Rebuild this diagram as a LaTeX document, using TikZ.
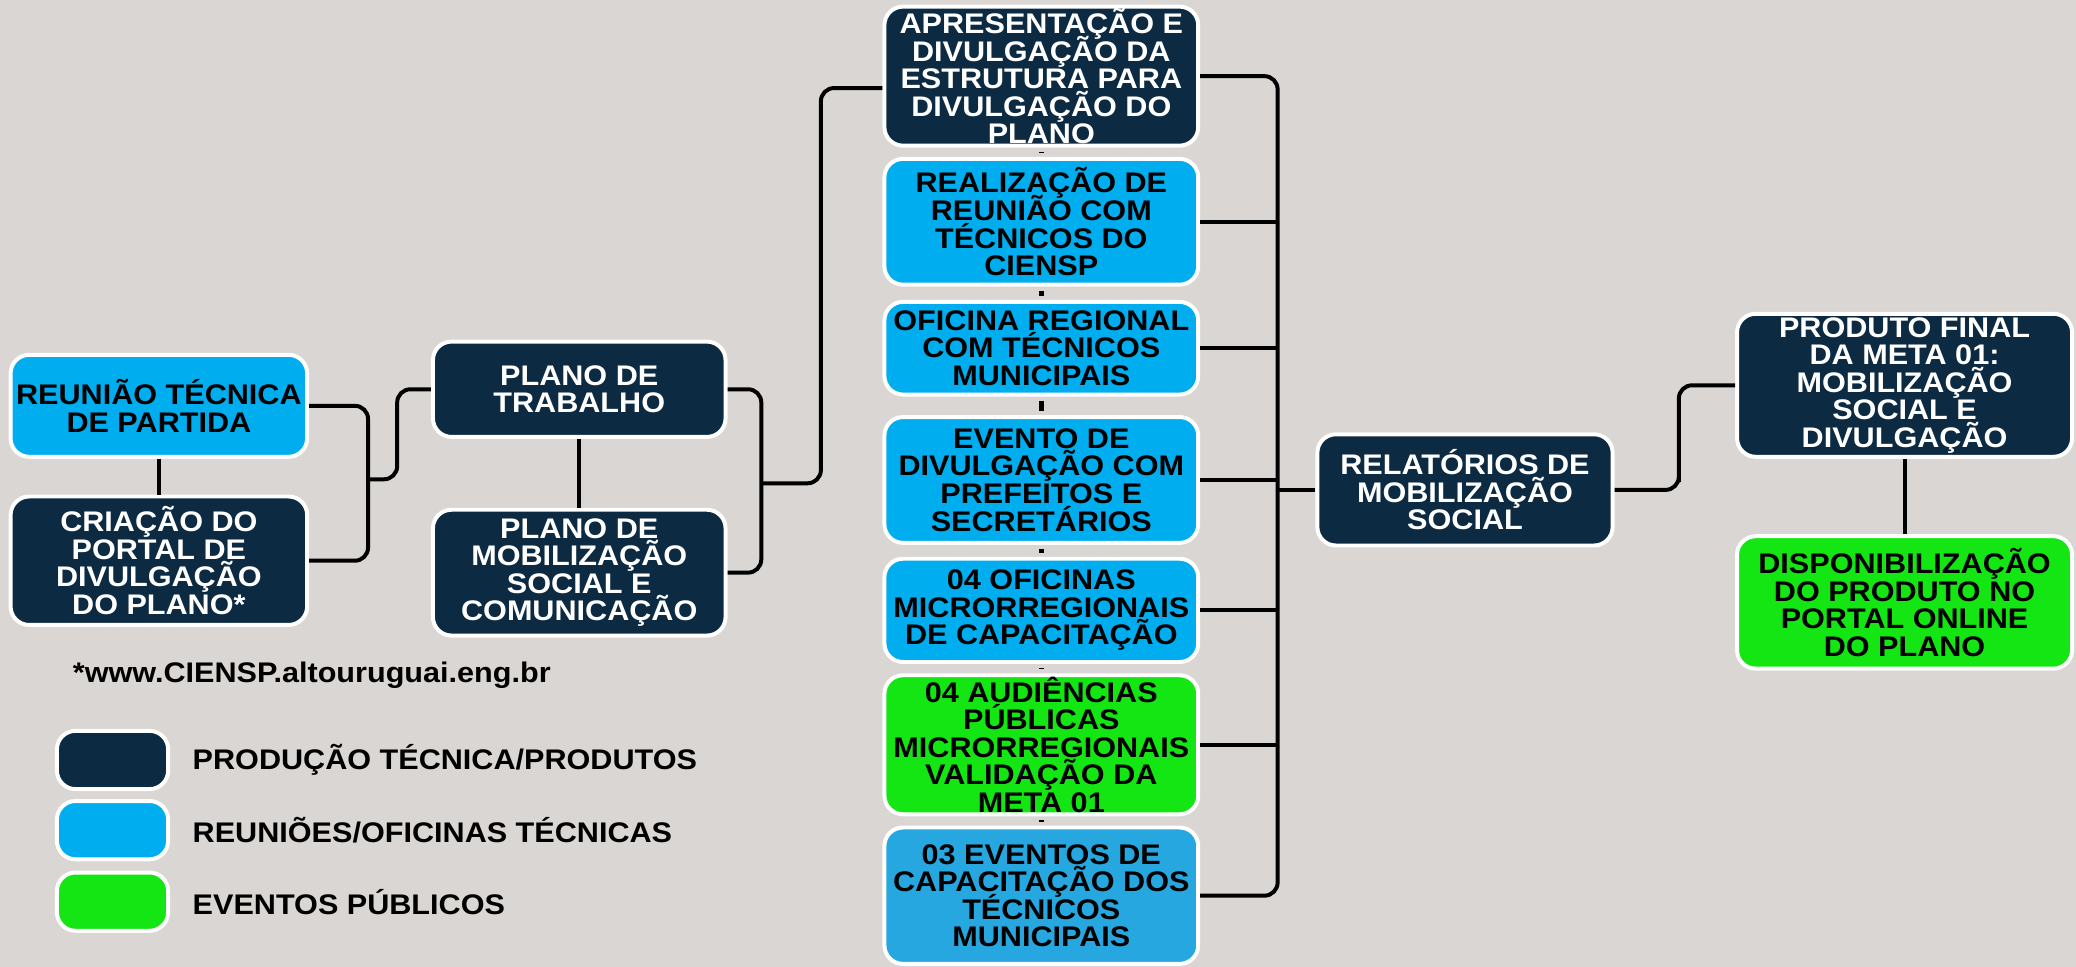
\documentclass[tikz,border=0pt]{standalone}
\usepackage{fontspec}
\setmainfont{Liberation Sans}[FakeStretch=1.08]
\usetikzlibrary{positioning}

\definecolor{fundo}{RGB}{217,214,211}
\definecolor{marinho}{RGB}{12,42,66}
\definecolor{celeste}{RGB}{0,174,239}
\definecolor{azul}{RGB}{39,167,224}
\definecolor{verde}{RGB}{20,230,20}
\newcommand{\letracaixa}{\fontsize{10.7}{10.4}\selectfont\bfseries\setlength{\lineskiplimit}{-20pt}\relax}

\begin{document}
\begin{tikzpicture}[x=0.5pt, y=-0.5pt,
        caixa/.style={rectangle, rounded corners=7pt, draw=white, line width=1.5pt,
                align=center, inner sep=0pt, font=\letracaixa},
        produto/.style={caixa, fill=marinho, text=white},
        oficina/.style={caixa, fill=celeste, text=black},
        publico/.style={caixa, fill=verde, text=black},
        liga/.style={line width=1.5pt, rounded corners=5pt},
        ponto/.style={line width=2pt, shorten <=1.5pt, shorten >=1.5pt}]
        \fill[fundo] (0, 0) rectangle (1568, 730);
        \useasboundingbox (0, 0) rectangle (1568, 730);

        % inicio
        \node[oficina, minimum width=112pt, minimum height=38.5pt] (partida) at (120, 306.5)
                {REUNIÃO TÉCNICA\\DE PARTIDA};
        \node[produto, minimum width=112pt, minimum height=48.5pt] (portal) at (120, 423.5)
                {CRIAÇÃO DO\\PORTAL DE\\DIVULGAÇÃO\\DO PLANO*};
        \node[produto, minimum width=110.5pt, minimum height=36pt] (trabalho) at (437.5, 294)
                {PLANO DE\\TRABALHO};
        \node[produto, minimum width=110.5pt, minimum height=47.5pt] (mobilizacao) at (437.5, 432.5)
                {PLANO DE\\MOBILIZAÇÃO\\SOCIAL E\\COMUNICAÇÃO};

        % coluna central
        \node[produto, minimum width=118.5pt, minimum height=52.5pt] (apresentacao) at (786.5, 57.5)
                {APRESENTAÇÃO E\\DIVULGAÇÃO DA\\ESTRUTURA PARA\\DIVULGAÇÃO DO\\PLANO};
        \node[oficina, minimum width=118.5pt, minimum height=47.5pt] (ciensp) at (786.5, 167.5)
                {REALIZAÇÃO DE\\REUNIÃO COM\\TÉCNICOS DO\\CIENSP};
        \node[oficina, minimum width=118.5pt, minimum height=35pt] (regional) at (786.5, 263)
                {OFICINA REGIONAL\\COM TÉCNICOS\\MUNICIPAIS};
        \node[oficina, minimum width=118.5pt, minimum height=47.5pt] (prefeitos) at (786.5, 362.5)
                {EVENTO DE\\DIVULGAÇÃO COM\\PREFEITOS E\\SECRETÁRIOS};
        \node[oficina, minimum width=118.5pt, minimum height=39pt] (microrregionais) at (786.5, 461)
                {04 OFICINAS\\MICRORREGIONAIS\\DE CAPACITAÇÃO};
        \node[publico, minimum width=118.5pt, minimum height=52.5pt] (audiencias) at (786.5, 562.5)
                {04 AUDIÊNCIAS\\PÚBLICAS\\MICRORREGIONAIS\\VALIDAÇÃO DA\\META 01};
        \node[oficina, fill=azul, minimum width=118.5pt, minimum height=51.5pt] (capacitacao) at (786.5, 676.5)
                {03 EVENTOS DE\\CAPACITAÇÃO DOS\\TÉCNICOS\\MUNICIPAIS};

        % final
        \node[produto, minimum width=111.5pt, minimum height=42pt] (relatorios) at (1106.5, 370)
                {RELATÓRIOS DE\\MOBILIZAÇÃO\\SOCIAL};
        \node[produto, minimum width=126.5pt, minimum height=54pt] (final) at (1438.5, 291)
                {PRODUTO FINAL\\DA META 01:\\MOBILIZAÇÃO\\SOCIAL E\\DIVULGAÇÃO};
        \node[publico, minimum width=126.5pt, minimum height=50pt] (online) at (1438.5, 455)
                {DISPONIBILIZAÇÃO\\DO PRODUTO NO\\PORTAL ONLINE\\DO PLANO};

        % ligacoes
        \coordinate (j1) at (278, 362);
        \coordinate (j2) at (575, 365);
        \coordinate (barra) at (965, 370);
        \coordinate (j3) at (1268, 370);

        \draw[liga] (partida) -- (portal);
        \draw[liga] (partida.east) -| (j1) |- (portal.east);
        \draw[liga] (j1) -- ++(22, 0) |- (trabalho.west);
        \draw[liga] (trabalho) -- (mobilizacao);
        \draw[liga] (trabalho.east) -| (j2) |- (mobilizacao.east);
        \draw[liga] (j2) -- ++(45, 0) |- ([yshift=-4.5pt]apresentacao.west);
        \draw[liga] (apresentacao.east) -| (barra) |- (capacitacao.east);
        \foreach \n in {ciensp, regional, prefeitos, microrregionais, audiencias}
                \draw[liga] (\n.east) -- (\n.east -| barra);
        \draw[liga] (barra) -- (relatorios.west);
        \draw[liga] (relatorios.east) -| (j3) |- (final.west);
        \draw[liga] (final) -- (online);
        \foreach \a/\b in {apresentacao/ciensp, ciensp/regional, regional/prefeitos,
                        prefeitos/microrregionais, microrregionais/audiencias, audiencias/capacitacao}
                \draw[ponto] (\a.south) -- (\b.north);

        % legenda
        \node[anchor=west, font=\fontsize{10.7}{13}\selectfont\bfseries] (site) at (48, 510)
                {*www.CIENSP.altouruguai.eng.br};
        \foreach \cor/\y/\texto/\nome in {marinho/574/PRODUÇÃO TÉCNICA\slash PRODUTOS/lprod,
                        celeste/627/REUNIÕES\slash OFICINAS TÉCNICAS/loficina,
                        verde/681/EVENTOS PÚBLICOS/lpublico}
        {
                \node[caixa, fill=\cor, minimum width=42pt, minimum height=22pt] (\nome) at (85, \y) {};
                \node[font=\fontsize{10.7}{13}\selectfont\bfseries, right=5pt of \nome] {\texto};
        }
\end{tikzpicture}
\end{document}
